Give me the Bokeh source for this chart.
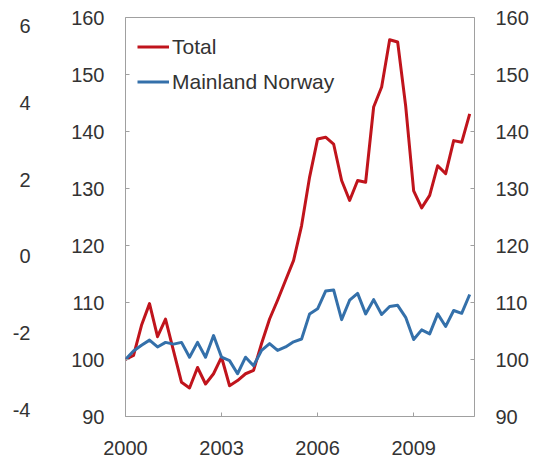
from bokeh.plotting import figure
from bokeh.models import Range1d, LinearAxis, FixedTicker, Legend, LegendItem
from bokeh.embed import file_html
from bokeh.resources import INLINE

# Quarterly observations, 2000Q1 .. 2010Q4 (decimal years)
years = [2000.0, 2000.25, 2000.5, 2000.75, 2001.0, 2001.25, 2001.5, 2001.75,
         2002.0, 2002.25, 2002.5, 2002.75, 2003.0, 2003.25, 2003.5, 2003.75,
         2004.0, 2004.25, 2004.5, 2004.75, 2005.0, 2005.25, 2005.5, 2005.75,
         2006.0, 2006.25, 2006.5, 2006.75, 2007.0, 2007.25, 2007.5, 2007.75,
         2008.0, 2008.25, 2008.5, 2008.75, 2009.0, 2009.25, 2009.5, 2009.75,
         2010.0, 2010.25, 2010.5, 2010.75]

total = [100, 100.7, 106, 109.8, 104, 107.1, 101.5, 96, 95, 98.6, 95.7, 97.5,
         100.4, 95.4, 96.3, 97.5, 98.1, 102.8, 107.1, 110.4, 113.9, 117.4, 123.5, 132,
         138.7, 139, 137.8, 131.4, 127.9, 131.4, 131.1, 144.3, 147.8, 156.1, 155.7, 144.5,
         129.6, 126.6, 128.8, 134, 132.6, 138.4, 138.1, 143.1]

mainland = [100, 101.5, 102.5, 103.4, 102.2, 103, 102.7, 103, 100.4, 103, 100.4, 104.2,
            100.4, 99.8, 97.5, 100.4, 98.9, 101.6, 102.8, 101.6, 102.2, 103.1, 103.6, 108,
            108.9, 112, 112.2, 107, 110.4, 111.6, 108, 110.5, 107.9, 109.3, 109.5, 107.4,
            103.5, 105.2, 104.5, 108, 105.8, 108.6, 108.1, 111.4]

x_ticks = [2000, 2003, 2006, 2009]
y_ticks = [90, 100, 110, 120, 130, 140, 150, 160]
ghost_ticks = [-4, -2, 0, 2, 4, 6]
ghost_labels = {-4: "-4", -2: "-2", 0: "0", 2: "2", 4: "4", 6: "6"}

FONT = "Liberation Sans"
TXT = "#333333"
GRAY = "#a0a0a0"

p = figure(width=538, height=463, output_backend="svg", toolbar_location=None,
           x_range=Range1d(2000, 2010.9), y_range=Range1d(90, 160),
           min_border_left=125, min_border_right=64, min_border_top=17, min_border_bottom=47)
p.background_fill_color = "white"
p.border_fill_color = "white"
p.outline_line_color = GRAY
p.outline_line_width = 1
p.xgrid.visible = False
p.ygrid.visible = False

p.extra_y_ranges = {"ghost": Range1d(-4.156, 6.208)}

def style(ax, standoff, ticks=True):
    ax.axis_line_color = None
    ax.major_tick_line_color = GRAY if ticks else None
    ax.major_tick_in = 4
    ax.major_tick_out = 0
    ax.minor_tick_line_color = None
    ax.major_label_text_font = FONT
    ax.major_label_text_font_size = "20px"
    ax.major_label_text_color = TXT
    ax.major_label_standoff = standoff

xa = p.xaxis[0]
xa.ticker = FixedTicker(ticks=x_ticks)
style(xa, 24)

ya = p.yaxis[0]
ya.ticker = FixedTicker(ticks=y_ticks)
style(ya, 21)

ry = LinearAxis(ticker=FixedTicker(ticks=y_ticks))
style(ry, 21)
p.add_layout(ry, "right")

gy = LinearAxis(y_range_name="ghost", ticker=FixedTicker(ticks=ghost_ticks),
                major_label_overrides=ghost_labels)
style(gy, 38, ticks=False)
p.add_layout(gy, "left")

r1 = p.line(years, total, line_color="#c0141c", line_width=3, line_join="round")
r2 = p.line(years, mainland, line_color="#3470aa", line_width=3, line_join="round")

legend = Legend(items=[LegendItem(label="Total", renderers=[r1]),
                       LegendItem(label="Mainland Norway", renderers=[r2])],
                location="top_left", margin=12, padding=7, spacing=0,
                label_height=35, glyph_height=35, glyph_width=32, label_standoff=3,
                label_text_font=FONT, label_text_font_size="21px", label_text_color=TXT,
                border_line_color=None, background_fill_alpha=0)
p.add_layout(legend)

open("out.html", "w").write(file_html(p, INLINE))
